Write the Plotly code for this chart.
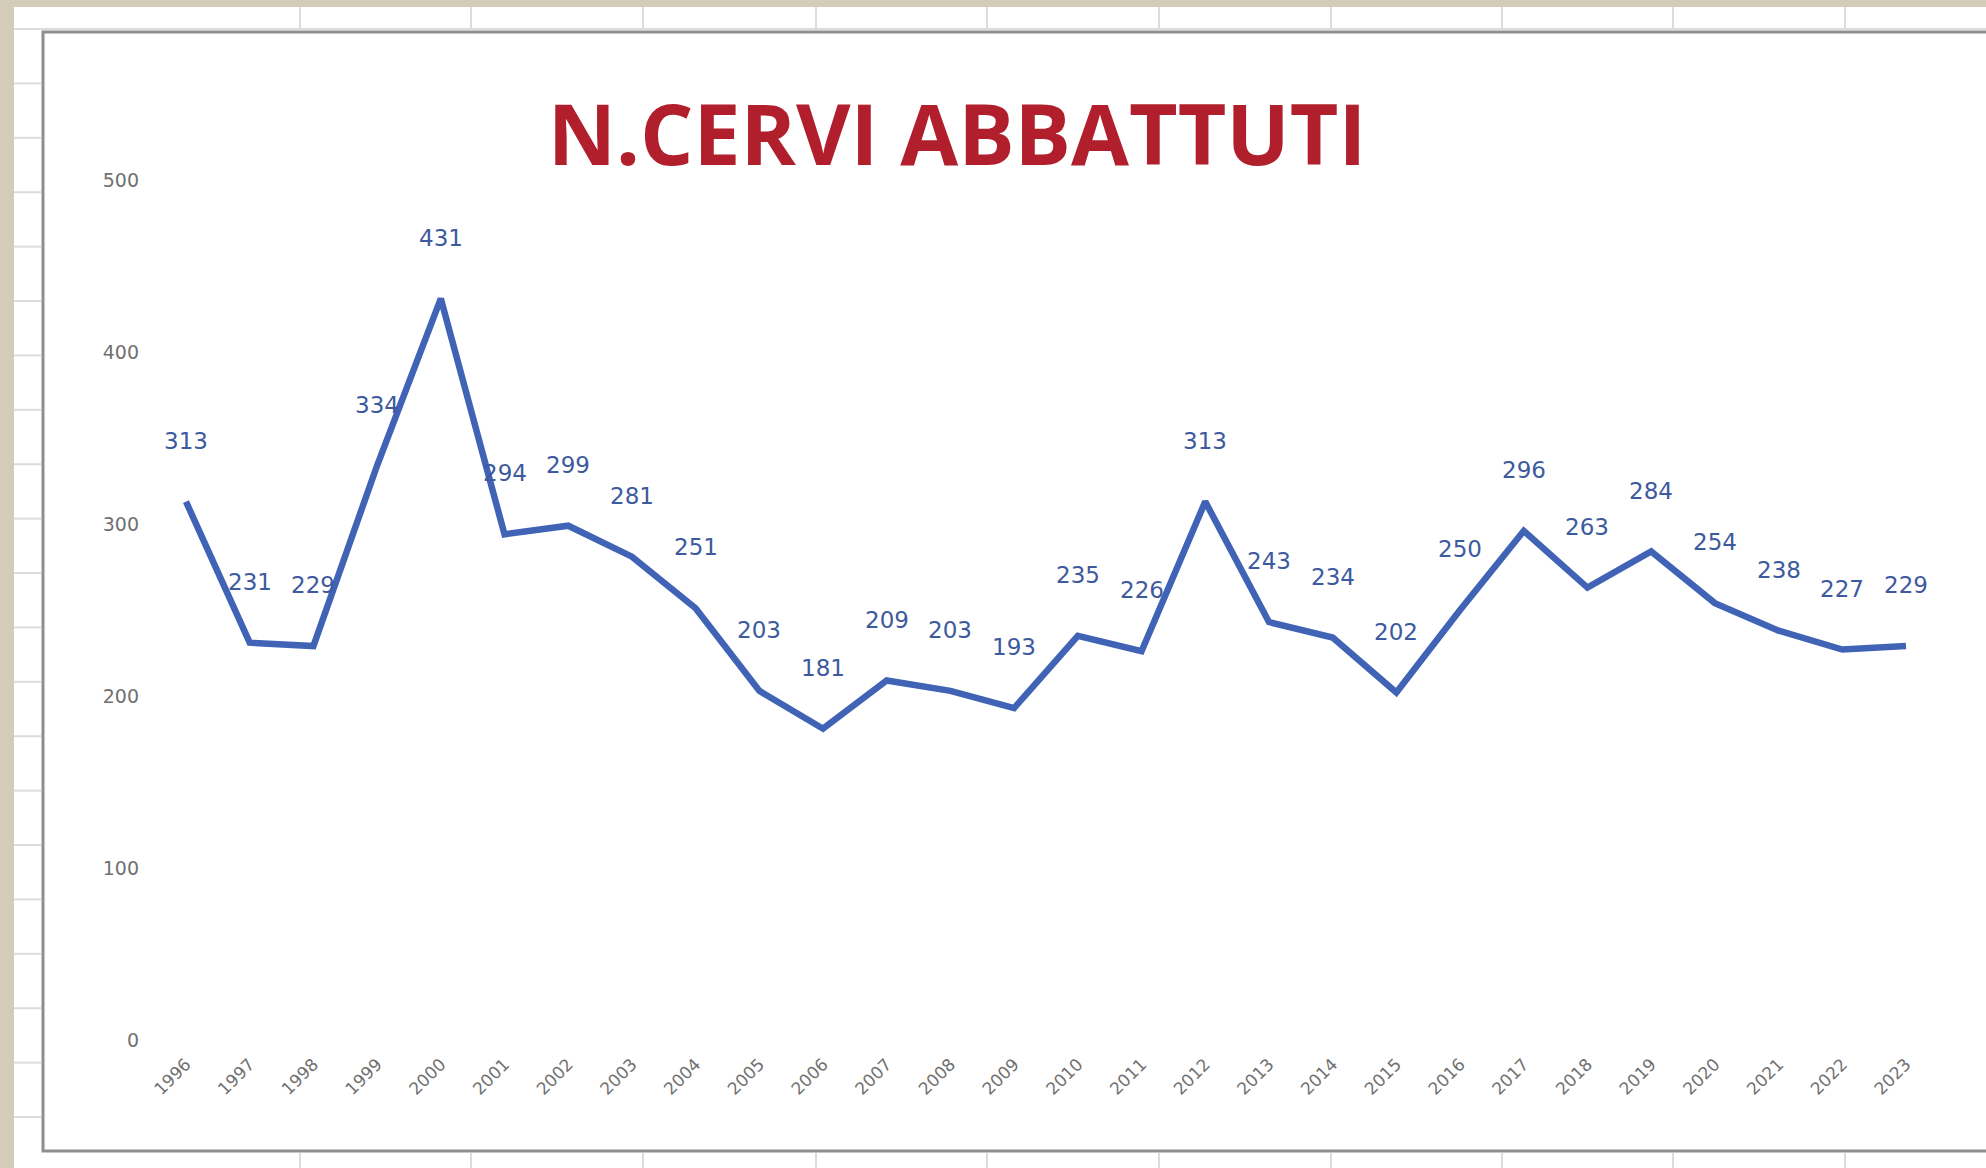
import plotly.graph_objects as go

years = list(range(1996, 2024))
cervi = [313, 231, 229, 334, 431, 294, 299, 281, 251, 203, 181, 209, 203, 193,
         235, 226, 313, 243, 234, 202, 250, 296, 263, 284, 254, 238, 227, 229]
y_ticks = [0, 100, 200, 300, 400, 500]
title_text = "N.CERVI ABBATTUTI"

W, H = 1986, 1168
L, R, T, B = 150, 46, 100, 128
PW, PH = W - L - R, H - T - B

def px(x):
    return (x - L) / PW

def py(y):
    return 1 - (y - T) / PH

fig = go.Figure()
fig.add_trace(go.Scatter(
    x=years, y=cervi, mode="lines",
    line=dict(color="#4063B6", width=6.5),
    hoverinfo="x+y",
))

annotations = []
for yr, v in zip(years, cervi):
    annotations.append(dict(
        x=yr, y=v, xref="x", yref="y", text=str(v), showarrow=False,
        yshift=61, font=dict(family="DejaVu Sans", size=23, color="#3D5A9E"),
    ))

shapes = []
beige = "#d3ccb6"
shapes.append(dict(type="rect", xref="paper", yref="paper", x0=px(-5), x1=px(14),
                   y0=py(H + 5), y1=py(-5), fillcolor=beige, line_width=0, layer="below"))
shapes.append(dict(type="rect", xref="paper", yref="paper", x0=px(-5), x1=px(W + 5),
                   y0=py(7), y1=py(-5), fillcolor=beige, line_width=0, layer="below"))
yy = 29
while yy < H:
    shapes.append(dict(type="line", xref="paper", yref="paper", x0=px(14), x1=px(41),
                       y0=py(yy), y1=py(yy), line=dict(color="#dcdcdc", width=2), layer="below"))
    yy += 54.4
for cx in [300, 471, 643, 816, 987, 1159, 1331, 1502, 1673, 1845]:
    shapes.append(dict(type="line", xref="paper", yref="paper", x0=px(cx), x1=px(cx),
                       y0=py(7), y1=py(30), line=dict(color="#dcdcdc", width=2), layer="below"))
    shapes.append(dict(type="line", xref="paper", yref="paper", x0=px(cx), x1=px(cx),
                       y0=py(1153), y1=py(H), line=dict(color="#dcdcdc", width=2), layer="below"))
shapes.append(dict(type="line", xref="paper", yref="paper", x0=px(14), x1=px(W),
                   y0=py(29), y1=py(29), line=dict(color="#dcdcdc", width=2), layer="below"))
shapes.append(dict(type="rect", xref="paper", yref="paper", x0=px(43), x1=px(W + 10),
                   y0=py(1151), y1=py(32), line=dict(color="#8e8e8e", width=3),
                   fillcolor="white", layer="below"))

fig.update_layout(
    width=W, height=H,
    margin=dict(l=L, r=R, t=T, b=B),
    paper_bgcolor="white", plot_bgcolor="rgba(0,0,0,0)",
    showlegend=False,
    title=dict(text=title_text, x=957 / W, y=1 - 136 / H, xanchor="center", yanchor="middle",
               font=dict(family="Open Sans", size=84, color="#B11F2D", weight="bold")),
    annotations=annotations,
    shapes=shapes,
    xaxis=dict(
        range=[1995.435, 2023.534], tickmode="array", tickvals=years,
        ticktext=[str(y) for y in years], tickangle=-45,
        showgrid=False, zeroline=False, showline=False, ticks="",
        ticklabelstandoff=10,
        tickfont=dict(family="DejaVu Sans", size=17, color="#707070"),
    ),
    yaxis=dict(
        range=[0, 546.5], tickmode="array", tickvals=y_ticks,
        showgrid=False, zeroline=False, showline=False, ticks="",
        ticklabelstandoff=10,
        tickfont=dict(family="DejaVu Sans", size=19, color="#707070"),
    ),
)

fig.write_html(
    "out.html",
    config={"displayModeBar": False},
    post_script="document.body.style.margin='0';document.body.style.overflow='hidden';",
)
